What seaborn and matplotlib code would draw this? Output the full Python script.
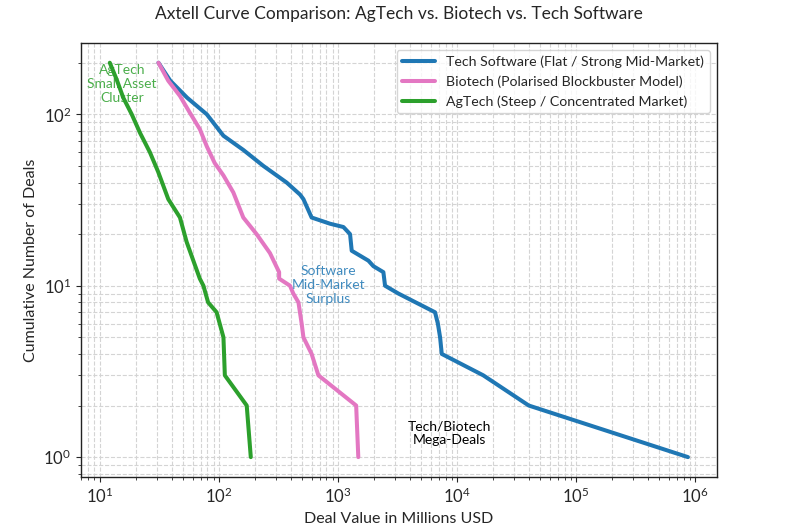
import pandas as pd
import numpy as np
import matplotlib
matplotlib.use('Agg')
import matplotlib.pyplot as plt
import seaborn as sns

# Deal values (USD m) vs. cumulative number of deals
tech_values = [31, 39, 54, 79, 109, 160, 236, 370, 480, 512, 600, 857, 1110, 1262,
               1303, 1800, 1983, 2404, 2483, 3216, 6530, 6900, 7200, 7436, 16600,
               40000, 870000]
tech_counts = [200, 157, 125, 100, 75, 62, 50, 40, 34, 32, 25, 23, 22, 20,
               16, 14, 13, 12, 10, 9, 7, 6, 5, 4, 3,
               2, 1]

bio_values = [31, 37.5, 47, 57, 69, 79, 92, 109, 132, 160, 207, 268, 320, 320,
              395, 421, 465, 495, 512, 600, 684, 1420, 1480]
bio_counts = [200, 157, 128, 102, 82, 65, 52, 44, 35, 25, 20, 15.5, 12, 11,
              10, 9, 8, 6, 5, 4, 3, 2, 1]

ag_values = [12.1, 13.8, 15.7, 18.5, 21.7, 26.3, 30.9, 37.5, 47, 53.5, 60.9, 69,
             74, 81, 95.5, 109, 112, 171, 185]
ag_counts = [200, 160, 125, 100, 78, 60, 46, 32, 25, 18, 14, 11,
             10, 8, 7, 5, 3, 2, 1]

labels = ['Tech Software (Flat / Strong Mid-Market)',
          'Biotech (Polarised Blockbuster Model)',
          'AgTech (Steep / Concentrated Market)']
colors = ['#1f77b4', '#e377c2', '#2ca02c']

frames = []
for lab, vals, cnts in zip(labels, [tech_values, bio_values, ag_values],
                           [tech_counts, bio_counts, ag_counts]):
    frames.append(pd.DataFrame({'value': vals, 'count': cnts, 'sector': lab}))
df = pd.concat(frames, ignore_index=True)

sns.set_style('ticks')
plt.rcParams['font.family'] = ['Lato', 'DejaVu Sans']

fig = plt.figure(figsize=(7.93, 5.31), dpi=100)
ax = fig.add_axes([0.102, 0.102, 0.802, 0.817])

sns.lineplot(data=df, x='value', y='count', hue='sector', hue_order=labels,
             palette=colors, sort=False, estimator=None, units='sector',
             linewidth=2.9, ax=ax)
ax.set_xscale('log')
ax.set_yscale('log')

ax.grid(True, which='both', linestyle='--', color='#d4d4d4', linewidth=0.8)
for s in ax.spines.values():
    s.set_color('#222222')
    s.set_linewidth(1.0)
ax.tick_params(labelsize=12)

ax.set_title('Axtell Curve Comparison: AgTech vs. Biotech vs. Tech Software',
             fontsize=12.5, pad=17)
ax.set_xlabel('Deal Value in Millions USD', fontsize=11.5)
ax.set_ylabel('Cumulative Number of Deals', fontsize=11.5)

ax.text(15.3, 150, 'AgTech\nSmall Asset\nCluster', color='#2ca02c', ha='center',
        va='center', fontsize=10, alpha=0.85)
ax.text(825, 10.1, 'Software\nMid-Market\nSurplus', color='#1f77b4', ha='center',
        va='center', fontsize=10, alpha=0.85)
ax.text(8600, 1.38, 'Tech/Biotech\nMega-Deals', color='black', ha='center',
        va='center', fontsize=10)

ax.legend(loc='upper right', fontsize=10.2, frameon=True, fancybox=True,
          handlelength=2.3)

fig.savefig('out.png', dpi=100)
